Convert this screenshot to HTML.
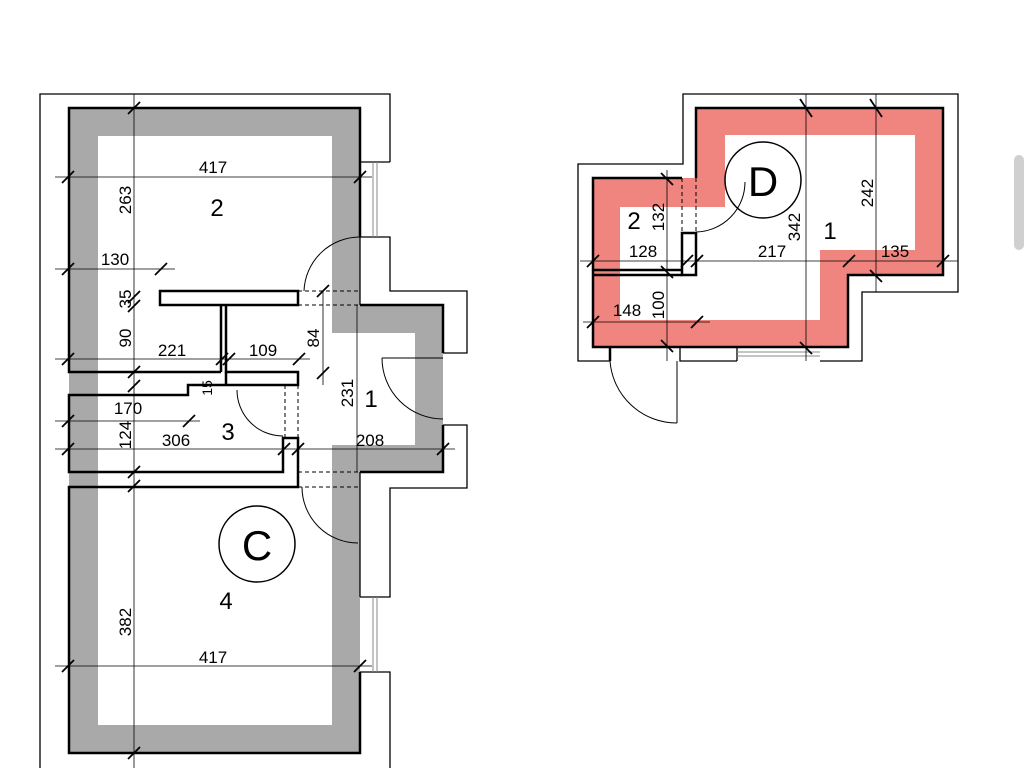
<!DOCTYPE html>
<html><head><style>html,body{margin:0;padding:0;background:#fff}svg{display:block}</style></head>
<body>
<svg width="1024" height="768" viewBox="0 0 1024 768" xmlns="http://www.w3.org/2000/svg" font-family="Liberation Sans, sans-serif">
<g fill="#a9a9a9">
<rect x="69" y="108" width="291" height="28"/>
<rect x="69" y="108" width="29" height="645"/>
<rect x="332" y="108" width="28" height="225"/>
<rect x="332" y="305" width="111" height="28"/>
<rect x="415" y="305" width="28" height="167"/>
<rect x="332" y="445" width="111" height="27"/>
<rect x="332" y="445" width="28" height="308"/>
<rect x="69" y="725" width="291" height="28"/>
</g>
<g fill="none" stroke="#000" stroke-width="1.3">
<polyline points="40,768 40,94 390,94 390,162"/>
<polyline points="360,162 390,162"/>
<polyline points="360,237 390,237 390,291 467,291 467,353 443,353"/>
<polyline points="443,425 467,425 467,488 390,488 390,597 360,597"/>
<polyline points="360,672 390,672 390,768"/>
<line x1="360" y1="237" x2="360" y2="305"/>
<line x1="360" y1="472" x2="360" y2="597"/>
</g>
<g stroke="#888" stroke-width="1">
<line x1="373" y1="162" x2="373" y2="237"/><line x1="377" y1="162" x2="377" y2="237"/>
<line x1="373" y1="597" x2="373" y2="672"/><line x1="377" y1="597" x2="377" y2="672"/>
</g>
<g fill="none" stroke="#000" stroke-width="2.5">
<polyline points="360,237 360,108 69,108 69,372 221,372"/>
<polyline points="360,305 443,305 443,353"/>
<polyline points="443,425 443,472 360,472"/>
<rect x="160" y="291" width="138" height="14"/>
<line x1="221" y1="305" x2="221" y2="372"/>
<polyline points="226,305 226,372 298,372 298,385 188,385 188,395 69,395 69,472 283,472 283,438 298,438 298,487 69,487 69,753 360,753 360,672"/>
<line x1="226" y1="372" x2="226" y2="385"/>
</g>
<g stroke="#000" stroke-width="1" stroke-dasharray="4,3" fill="none">
<line x1="298" y1="291" x2="360" y2="291"/><line x1="298" y1="305" x2="360" y2="305"/>
<line x1="298" y1="472" x2="360" y2="472"/><line x1="298" y1="487" x2="360" y2="487"/>
<line x1="285" y1="385" x2="285" y2="438"/><line x1="298" y1="385" x2="298" y2="438"/>
</g>
<g stroke="#000" stroke-width="1" fill="none">
<path d="M360,237 A56,56 0 0 0 304,291"/>
<path d="M237,390 A46,46 0 0 0 283,436"/>
<line x1="382" y1="358" x2="443" y2="358"/>
<path d="M382,358 A61,61 0 0 0 443,419"/>
<path d="M302,487 A56,56 0 0 0 358,543"/>
</g>
<g stroke="#000" stroke-width="0.8" fill="none">
<line x1="134" y1="94" x2="134" y2="768"/>
<line x1="55" y1="177" x2="372" y2="177"/>
<line x1="55" y1="269" x2="175" y2="269"/>
<line x1="55" y1="359" x2="310" y2="359"/>
<line x1="55" y1="421" x2="200" y2="421"/>
<line x1="55" y1="449" x2="455" y2="449"/>
<line x1="323" y1="291" x2="323" y2="385"/>
<line x1="357" y1="305" x2="357" y2="472"/>
<line x1="55" y1="666" x2="372" y2="666"/>
</g>
<g stroke="#000" stroke-width="1.8">
<line x1="128" y1="114" x2="140" y2="102"/>
<line x1="62" y1="183" x2="74" y2="171"/><line x1="354" y1="183" x2="366" y2="171"/>
<line x1="62" y1="275" x2="74" y2="263"/><line x1="155" y1="275" x2="167" y2="263"/>
<line x1="128" y1="303" x2="140" y2="291"/><line x1="128" y1="312" x2="140" y2="300"/>
<line x1="62" y1="365" x2="74" y2="353"/><line x1="216" y1="365" x2="228" y2="353"/><line x1="223" y1="365" x2="235" y2="353"/><line x1="293" y1="365" x2="305" y2="353"/>
<line x1="128" y1="378" x2="140" y2="366"/><line x1="128" y1="392" x2="140" y2="380"/>
<line x1="62" y1="427" x2="74" y2="415"/><line x1="183" y1="427" x2="195" y2="415"/>
<line x1="62" y1="455" x2="74" y2="443"/><line x1="278" y1="455" x2="290" y2="443"/><line x1="292" y1="455" x2="304" y2="443"/><line x1="437" y1="455" x2="449" y2="443"/>
<line x1="128" y1="478" x2="140" y2="466"/><line x1="128" y1="492" x2="140" y2="480"/>
<line x1="317" y1="297" x2="329" y2="285"/><line x1="317" y1="379" x2="329" y2="367"/>
<line x1="62" y1="672" x2="74" y2="660"/><line x1="354" y1="672" x2="366" y2="660"/>
<line x1="128" y1="759" x2="140" y2="747"/>
</g>
<g font-size="17" fill="#000">
<text x="213" y="173" text-anchor="middle">417</text>
<text x="115" y="265" text-anchor="middle">130</text>
<text x="172" y="356" text-anchor="middle">221</text>
<text x="263" y="356" text-anchor="middle">109</text>
<text x="128" y="414" text-anchor="middle">170</text>
<text x="176" y="446" text-anchor="middle">306</text>
<text x="370" y="446" text-anchor="middle">208</text>
<text x="213" y="663" text-anchor="middle">417</text>
<text transform="translate(131,200) rotate(-90)" text-anchor="middle">263</text>
<text transform="translate(131,299) rotate(-90)" text-anchor="middle">35</text>
<text transform="translate(131,338) rotate(-90)" text-anchor="middle">90</text>
<text transform="translate(131,435) rotate(-90)" text-anchor="middle">124</text>
<text transform="translate(131,622) rotate(-90)" text-anchor="middle">382</text>
<text transform="translate(353,393) rotate(-90)" text-anchor="middle">231</text>
<text transform="translate(319,338) rotate(-90)" text-anchor="middle">84</text>
<text transform="translate(212,388) rotate(-90)" text-anchor="middle" font-size="14">15</text>
</g>
<g font-size="24" fill="#000" text-anchor="middle">
<text x="217" y="216">2</text>
<text x="371" y="407">1</text>
<text x="228" y="440">3</text>
<text x="226" y="609">4</text>
</g>
<circle cx="257" cy="544" r="38" fill="none" stroke="#000" stroke-width="1.5"/>
<text x="257" y="560" font-size="42" text-anchor="middle">C</text>

<path d="M696,108 H943 V275 H848 V347 H593 V178 H696 Z M725,135 V207 H620 V320 H820 V250 H915 V135 Z" fill="#f08580" fill-rule="evenodd"/>
<g fill="none" stroke="#000" stroke-width="1.3">
<polyline points="610,361 578,361 578,164 683,164 683,94 958,94 958,292 862,292 862,361 820,361"/>
<polyline points="737,361 680,361 680,347"/>
<polyline points="737,347 737,361"/>
</g>
<g stroke="#888" stroke-width="1"><line x1="737" y1="352" x2="820" y2="352"/><line x1="737" y1="356" x2="820" y2="356"/></g>
<g fill="none" stroke="#000" stroke-width="2.5">
<path d="M696,178 V108 H943 V275 H848 V347 H593 V178 H682"/>
<rect x="682" y="233" width="14" height="42"/>
<line x1="593" y1="270" x2="682" y2="270"/>
<line x1="593" y1="275" x2="682" y2="275"/>
<line x1="610" y1="347" x2="610" y2="361"/>
</g>
<g stroke="#000" stroke-width="1" stroke-dasharray="4,3">
<line x1="682" y1="178" x2="682" y2="233"/><line x1="696" y1="178" x2="696" y2="233"/>
</g>
<g stroke="#000" stroke-width="1" fill="none">
<path d="M745,182 A50,50 0 0 1 696,232"/>
<line x1="677" y1="361" x2="677" y2="423"/>
<path d="M610,361 A67,67 0 0 0 677,423"/>
</g>
<g stroke="#000" stroke-width="0.8">
<line x1="806" y1="94" x2="806" y2="361"/>
<line x1="876" y1="94" x2="876" y2="292"/>
<line x1="580" y1="261" x2="958" y2="261"/>
<line x1="583" y1="322" x2="710" y2="322"/>
<line x1="667" y1="170" x2="667" y2="361"/>
</g>
<g stroke="#000" stroke-width="1.8">
<line x1="800" y1="99" x2="812" y2="117"/><line x1="870" y1="99" x2="882" y2="117"/>
<line x1="661" y1="173" x2="673" y2="185"/>
<line x1="587" y1="267" x2="599" y2="255"/><line x1="681" y1="267" x2="693" y2="255"/><line x1="691" y1="267" x2="703" y2="255"/><line x1="843" y1="267" x2="855" y2="255"/><line x1="937" y1="267" x2="949" y2="255"/>
<line x1="661" y1="266" x2="673" y2="278"/><line x1="870" y1="270" x2="882" y2="282"/>
<line x1="587" y1="328" x2="599" y2="316"/><line x1="691" y1="328" x2="703" y2="316"/>
<line x1="661" y1="340" x2="673" y2="352"/><line x1="800" y1="342" x2="812" y2="354"/>
</g>
<g font-size="17" fill="#000" text-anchor="middle">
<text x="643" y="257">128</text>
<text x="772" y="257">217</text>
<text x="895" y="257">135</text>
<text x="627" y="316">148</text>
<text transform="translate(664,217) rotate(-90)">132</text>
<text transform="translate(800,227) rotate(-90)">342</text>
<text transform="translate(873,193) rotate(-90)">242</text>
<text transform="translate(664,305) rotate(-90)">100</text>
</g>
<g font-size="24" text-anchor="middle"><text x="634" y="229">2</text><text x="830" y="239">1</text></g>
<circle cx="763" cy="180" r="38" fill="none" stroke="#000" stroke-width="1.5"/>
<text x="763" y="196" font-size="42" text-anchor="middle">D</text>
<rect x="1014" y="155" width="10" height="95" rx="5" fill="#d0d0d0"/>
</svg>
</body></html>
